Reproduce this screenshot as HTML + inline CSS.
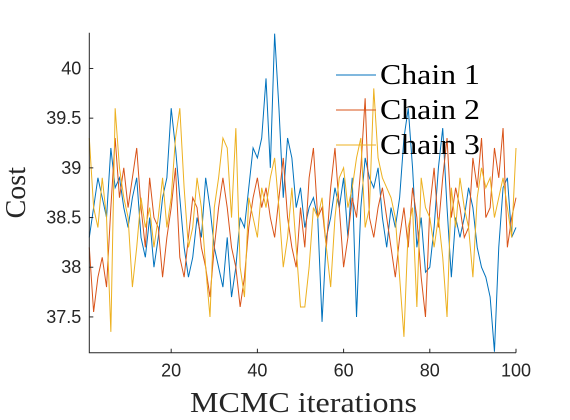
<!DOCTYPE html>
<html><head><meta charset="utf-8"><style>
body{margin:0;background:#fff;}
svg{display:block;font-family:"Liberation Sans",sans-serif;}
</style></head><body>
<svg id="chart" width="570" height="420"></svg>
<script>
const iterations = Array.from({length:100},(_,i)=>i+1);
const chain1 = [38.3,38.6,38.9,38.7,38.5,39.2,38.8,38.9,38.6,38.4,38.7,38.9,38.3,38.1,38.5,38.0,38.3,38.7,38.9,39.6,39.2,38.7,38.2,37.9,38.1,38.5,38.3,38.9,38.6,38.2,38.0,37.8,38.3,37.7,38.0,38.5,38.4,38.8,39.2,39.1,39.3,39.9,39.0,40.35,39.6,38.7,39.3,39.1,38.6,38.8,38.4,38.6,38.7,38.5,37.45,38.3,38.5,38.8,38.6,38.9,38.3,38.9,37.5,38.6,39.1,38.9,38.8,39.0,38.5,38.2,38.6,38.4,38.7,39.3,39.6,39.0,38.2,38.5,37.95,38.0,38.4,39.0,39.4,38.6,37.9,38.5,38.3,38.5,38.8,38.6,38.2,38.0,37.9,37.7,37.15,38.2,38.8,38.9,38.3,38.4];
const chain2 = [38.2,37.55,37.9,38.1,37.8,38.6,39.3,38.7,39.0,38.6,38.9,39.2,38.6,38.2,38.9,38.5,38.4,37.9,38.3,38.6,39.0,38.1,37.9,38.3,38.7,38.6,38.2,38.0,37.7,38.2,38.6,38.9,38.6,38.2,38.0,37.6,37.9,38.4,38.7,38.9,38.6,38.8,38.5,38.3,38.7,39.1,38.5,38.2,38.0,38.6,38.2,38.9,39.2,38.5,38.6,38.2,38.8,39.2,38.6,38.0,38.3,38.7,38.5,39.0,39.7,38.5,38.3,38.6,38.8,38.5,38.2,37.9,38.3,38.6,38.2,38.8,38.5,37.9,37.5,38.6,39.0,38.4,38.9,39.3,38.5,38.8,38.6,38.3,38.4,39.1,38.8,39.3,38.5,38.6,39.2,38.9,39.4,38.2,38.5,38.7];
const chain3 = [39.3,38.6,38.4,38.9,38.5,37.35,39.6,39.0,38.7,38.5,37.8,38.2,38.7,38.4,38.6,38.2,38.5,38.9,38.4,38.7,39.3,39.6,38.8,38.2,38.4,38.9,38.6,38.0,37.5,38.6,38.9,39.3,39.2,38.5,39.4,38.0,37.7,38.7,38.5,38.3,38.8,38.6,38.9,39.1,38.6,38.0,38.3,38.8,38.2,37.6,37.6,38.0,38.6,38.5,38.7,38.2,37.8,38.5,38.9,39.0,38.6,38.8,39.1,39.3,38.4,38.6,39.8,39.1,38.9,38.8,38.7,38.5,37.9,37.3,38.4,38.6,37.6,38.9,38.6,38.5,38.2,38.5,38.1,37.5,38.8,38.4,38.9,38.6,38.4,37.9,38.7,39.0,38.8,38.9,38.5,38.7,38.9,38.6,38.3,39.2];
const xTicks = [20,40,60,80,100];
const yTicks = [37.5,38,38.5,39,39.5,40];
const yTickLabels = ["37.5","38","38.5","39","39.5","40"];
const seriesNames = ["Chain 1","Chain 2","Chain 3"];
const colors = ["#0072BD","#D95319","#EDB120"];

const L=89.3,R=516,T=32.7,B=352.7, X0=1,X1=100, Y0=37.14,Y1=40.36;
const sx=v=>L+(v-X0)/(X1-X0)*(R-L);
const sy=v=>B-(v-Y0)/(Y1-Y0)*(B-T);
const svg=document.getElementById('chart');
const NS='http://www.w3.org/2000/svg';
function mk(t,a){const e=document.createElementNS(NS,t);for(const k in a)e.setAttribute(k,a[k]);svg.appendChild(e);return e;}

[chain1,chain2,chain3].forEach((s,ci)=>{
  const p=mk('polyline',{points:s.map((v,i)=>sx(iterations[i])+','+sy(v)).join(' '),fill:'none',stroke:colors[ci],'stroke-width':1});
  
  
});
const ax=mk('path',{d:`M${L},${T}V${B}H${R}`,fill:'none',stroke:'#262626','stroke-width':1});


xTicks.forEach(t=>{
  const x=sx(t);
  const tk=mk('line',{x1:x,x2:x,y1:B,y2:B-4,stroke:'#262626'});
  
  
  const tx=mk('text',{x:x,y:B+24,'text-anchor':'middle','font-size':18,fill:'#262626'});
  tx.textContent=t;
  
  
});
yTicks.forEach((t,i)=>{
  const y=sy(t);
  const tk=mk('line',{x1:L,x2:L+4,y1:y,y2:y,stroke:'#262626'});
  
  
  const tx=mk('text',{x:L-8,y:y+6,'text-anchor':'end','font-size':18,fill:'#262626'});
  tx.textContent=yTickLabels[i];
  
  
});
const xl=mk('text',{x:190,y:412,'font-size':28,'font-family':'Liberation Serif, serif',fill:'#262626',textLength:227,lengthAdjust:'spacingAndGlyphs'});
xl.textContent='MCMC iterations';


const yl=mk('text',{x:0,y:0,'text-anchor':'middle','font-size':28,'font-family':'Liberation Serif, serif',fill:'#262626',transform:`translate(25,${(T+B)/2}) rotate(-90)`});
yl.textContent='Cost';


seriesNames.forEach((n,i)=>{
  const y=75+i*35;
  const ln=mk('line',{x1:336,x2:376,y1:y,y2:y,stroke:colors[i],'stroke-width':1});
  
  
  const tx=mk('text',{x:380,y:y+9,'font-size':28,'font-family':'Liberation Serif, serif',fill:'#000',textLength:100,lengthAdjust:'spacingAndGlyphs'});
  tx.textContent=n;
  
  
});
</script>
</body></html>
